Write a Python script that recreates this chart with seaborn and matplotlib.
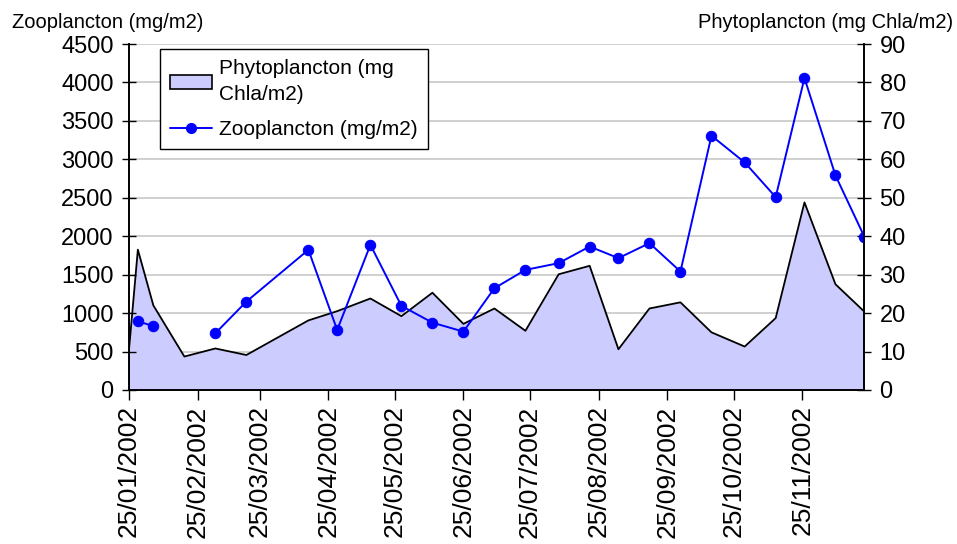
import pandas as pd
import numpy as np
import matplotlib
matplotlib.use("Agg")
import matplotlib.pyplot as plt
import matplotlib.dates as mdates
from matplotlib.patches import Patch
from matplotlib.lines import Line2D
import seaborn as sns

dates = ["2002-01-25", "2002-01-29", "2002-02-05", "2002-02-19", "2002-03-05",
         "2002-03-19", "2002-04-16", "2002-04-29", "2002-05-14", "2002-05-28",
         "2002-06-11", "2002-06-25", "2002-07-09", "2002-07-23", "2002-08-07",
         "2002-08-21", "2002-09-03", "2002-09-17", "2002-10-01", "2002-10-15",
         "2002-10-30", "2002-11-13", "2002-11-26", "2002-12-10", "2002-12-23"]
phyto = [10.5, 36.5, 22.0, 8.7, 10.8, 9.1, 18.1, 20.5, 23.8, 19.2,
         25.3, 17.2, 21.2, 15.4, 30.1, 32.3, 10.6, 21.2, 22.8, 15.0,
         11.3, 18.7, 48.8, 27.5, 20.4]
zoo = [np.nan, 895, 830, np.nan, 738, 1150, 1823, 781, 1888, 1094,
       876, 759, 1324, 1562, 1650, 1866, 1715, 1910, 1541, 3307,
       2960, 2509, 4058, 2790, 1996]
tick_dates = ["2002-%02d-25" % m for m in range(1, 12)]

df = pd.DataFrame({"date": pd.to_datetime(dates), "phyto": phyto, "zoo": zoo})
df["seg"] = df["zoo"].isna().cumsum()
zdf = df.dropna(subset=["zoo"])

sns.set_style("white")
plt.rcParams["font.family"] = ["Liberation Sans", "DejaVu Sans"]
plt.rcParams.update({"text.color": "black", "xtick.color": "black",
                     "ytick.color": "black", "axes.labelcolor": "black"})

fig = plt.figure(figsize=(9.57, 5.44), dpi=100)
ax_p = fig.add_axes([0.1348, 0.2831, 0.9031 - 0.1348, 0.9191 - 0.2831])
ax_z = ax_p.twinx()
ax_z.set_zorder(ax_p.get_zorder() + 1)
ax_z.patch.set_visible(False)

# phytoplankton area (right axis), drawn below
ax_p.fill_between(df["date"], 0, df["phyto"], color="#CCCCFF", linewidth=0, zorder=2)
edge_x = [df["date"].iloc[0]] + list(df["date"]) + [df["date"].iloc[-1]]
edge_y = [0] + list(df["phyto"]) + [0]
ax_p.plot(edge_x, edge_y, color="black", lw=1.3, zorder=3)
ax_p.set_ylim(0, 90)
ax_p.set_yticks(range(0, 91, 10))
ax_p.yaxis.tick_right()
ax_p.grid(axis="y", color="#C8C8C8", lw=1.2)
ax_p.set_axisbelow(True)

# zooplankton line (left axis)
sns.lineplot(data=zdf, x="date", y="zoo", units="seg", estimator=None,
             color="#0000FF", lw=1.4, marker="o", markersize=7.5,
             markeredgecolor="#0000FF", ax=ax_z)
ax_z.set_ylim(0, 4500)
ax_z.set_yticks(range(0, 4501, 500))
ax_z.yaxis.tick_left()
ax_z.set_xlabel("")
ax_z.set_ylabel("")

ax_p.set_xlim(df["date"].iloc[0], df["date"].iloc[-1])
ax_p.set_xticks(pd.to_datetime(tick_dates))
ax_p.xaxis.set_major_formatter(mdates.DateFormatter("%d/%m/%Y"))
ax_p.tick_params(axis="x", labelrotation=90, labelsize=19, direction="out",
                 length=7, width=1, bottom=True, pad=4)
ax_p.tick_params(axis="y", labelsize=17, direction="inout", length=10, width=1,
                 right=True, pad=6)
ax_z.tick_params(axis="y", labelsize=17, direction="inout", length=10, width=1,
                 left=True, pad=6)
ax_z.tick_params(axis="x", bottom=False, labelbottom=False)

for a in (ax_p, ax_z):
    a.spines["top"].set_visible(False)
    for s in ("left", "right", "bottom"):
        a.spines[s].set_color("black")
        a.spines[s].set_linewidth(1.2)

fig.text(12 / 957, 1 - 28 / 544, "Zooplancton (mg/m2)", fontsize=14.5, ha="left", va="baseline")
fig.text(953 / 957, 1 - 28 / 544, "Phytoplancton (mg Chla/m2)", fontsize=14.5, ha="right", va="baseline")

handles = [Patch(facecolor="#CCCCFF", edgecolor="black", lw=1.2),
           Line2D([], [], color="#0000FF", lw=1.4, marker="o", markersize=7)]
labels = ["Phytoplancton (mg\nChla/m2)", "Zooplancton (mg/m2)"]
leg = ax_z.legend(handles, labels, loc="upper left", bbox_to_anchor=(31 / 735, 1 - 5 / 346),
                  fontsize=15, frameon=True, fancybox=False, edgecolor="black",
                  framealpha=1, borderpad=0.5, handlelength=2.0, handletextpad=0.35,
                  labelspacing=0.75, borderaxespad=0)
for t in leg.get_texts():
    t.set_linespacing(1.45)
leg.get_frame().set_linewidth(1.0)

fig.savefig("out.png", dpi=100)
